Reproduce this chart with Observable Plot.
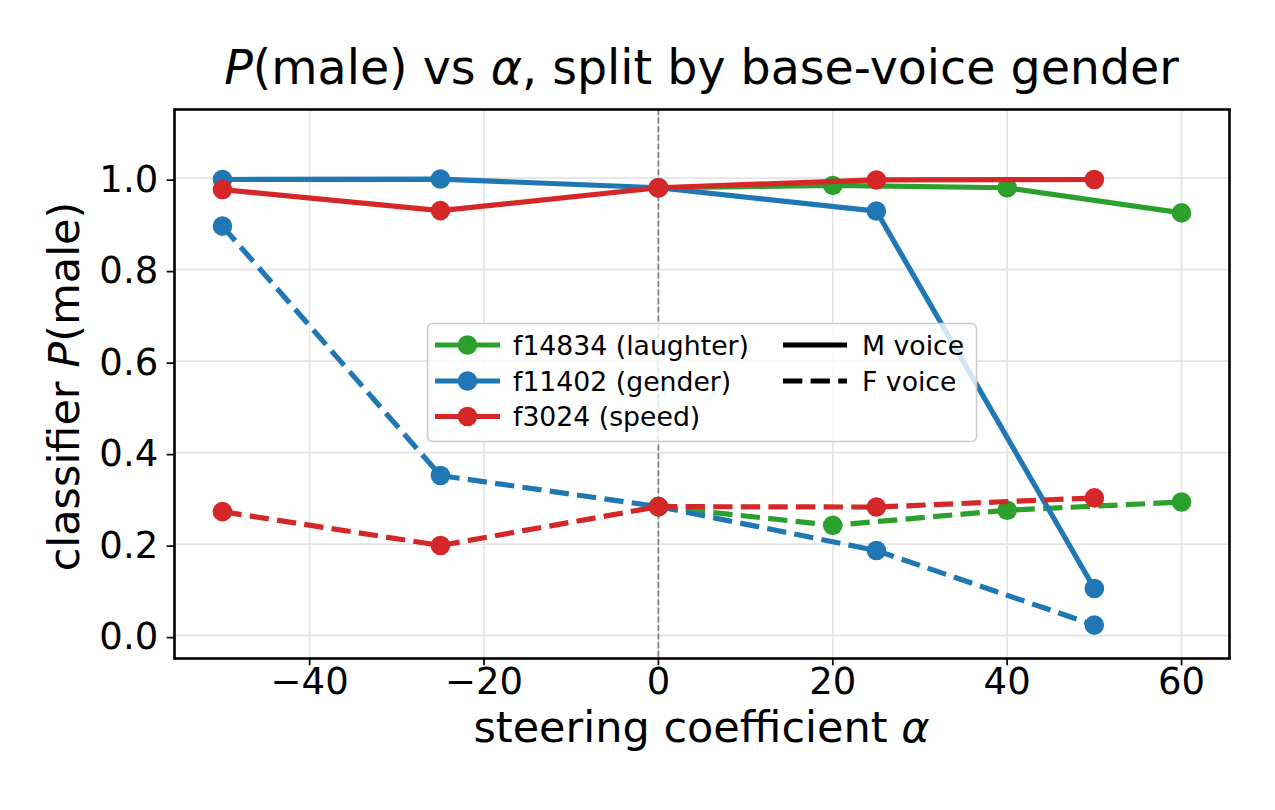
<!DOCTYPE html>
<html>
<head>
<meta charset="utf-8">
<script src="https://cdn.jsdelivr.net/npm/d3@7"></script>
<script src="https://cdn.jsdelivr.net/npm/@observablehq/plot@0.6"></script>
<style>
  body { margin: 0; background: #fff; font-family: "DejaVu Sans", sans-serif; }
  #wrap { width: 1275px; height: 810px; position: relative; overflow: hidden; }
  #title { position: relative; height: 100px; }
  #title div {
    position: absolute; left: 174px; width: 1055px; top: 44px;
    text-align: center; font-size: 47.5px; line-height: 1; color: #000; white-space: nowrap;
  }
  #chart svg { display: block; }
</style>
</head>
<body>
<div id="wrap">
  <div id="title"><div><i>P</i>(male) vs <i>α</i>, split by base-voice gender</div></div>
  <div id="chart"></div>
</div>
<script>
// Steering coefficients (α) used per feature
const alphasLaughter = [0, 20, 40, 60];
const alphasGender = [-50, -25, 0, 25, 50];
const alphasSpeed = [-50, -25, 0, 25, 50];

// Classifier P(male) for male (M) and female (F) base voices
const laughterM = [0.979, 0.984, 0.979, 0.924];
const laughterF = [0.282, 0.241, 0.274, 0.292];
const genderM = [0.997, 0.998, 0.979, 0.928, 0.103];
const genderF = [0.895, 0.350, 0.282, 0.186, 0.023];
const speedM = [0.975, 0.929, 0.979, 0.996, 0.997];
const speedF = [0.271, 0.197, 0.282, 0.281, 0.301];

const features = ["f14834 (laughter)", "f11402 (gender)", "f3024 (speed)"];
const featureColors = ["#2ca02c", "#1f77b4", "#d62728"];
const voices = ["M voice", "F voice"];

const xTicks = [-40, -20, 0, 20, 40, 60];
const yTicks = [0, 0.2, 0.4, 0.6, 0.8, 1.0];

// One entry per drawn series, in drawing order
const series = [
  {feature: features[0], color: featureColors[0], voice: voices[0], alphas: alphasLaughter, values: laughterM},
  {feature: features[0], color: featureColors[0], voice: voices[1], alphas: alphasLaughter, values: laughterF},
  {feature: features[1], color: featureColors[1], voice: voices[0], alphas: alphasGender, values: genderM},
  {feature: features[1], color: featureColors[1], voice: voices[1], alphas: alphasGender, values: genderF},
  {feature: features[2], color: featureColors[2], voice: voices[0], alphas: alphasSpeed, values: speedM},
  {feature: features[2], color: featureColors[2], voice: voices[1], alphas: alphasSpeed, values: speedF}
];

const DASH = "19.3,8.3";
const LW = 5.2;
const R = 9.8;

const seriesMarks = series.flatMap(s => {
  const rows = s.alphas.map((a, i) => ({alpha: a, p: s.values[i]}));
  return [
    Plot.line(rows, {
      x: "alpha", y: "p", stroke: s.color, strokeWidth: LW,
      strokeDasharray: s.voice === "F voice" ? DASH : null,
      strokeLinejoin: "round", strokeLinecap: "butt"
    }),
    Plot.dot(rows, {x: "alpha", y: "p", r: R, fill: s.color, stroke: "none"})
  ];
});

const fmtX = d => (d < 0 ? "\u2212" + Math.abs(d) : String(d));
const fmtY = d => d.toFixed(1);

const W = 1275, H = 710;
const mTop = 9, mLeft = 174, mRight = 46, mBottom = 152;

const chart = Plot.plot({
  width: W,
  height: H,
  marginTop: mTop,
  marginLeft: mLeft,
  marginRight: mRight,
  marginBottom: mBottom,
  style: {fontFamily: "DejaVu Sans", fontSize: "37px", color: "#000", background: "#fff", overflow: "visible"},
  x: {domain: [-55.5, 65.5]},
  y: {domain: [-0.05, 1.15]},
  marks: [
    Plot.gridX(xTicks, {stroke: "#e4e4e4", strokeOpacity: 1, strokeWidth: 1.6}),
    Plot.gridY(yTicks, {stroke: "#e4e4e4", strokeOpacity: 1, strokeWidth: 1.6}),
    Plot.ruleX([0], {stroke: "#808080", strokeWidth: 1.7, strokeDasharray: "6,2.6"}),
    ...seriesMarks,
    Plot.frame({stroke: "#000", strokeWidth: 2.6}),
    Plot.axisX(xTicks, {tickSize: 7.3, tickPadding: 2, fontSize: 37, strokeWidth: 1.7, tickFormat: fmtX, label: null}),
    Plot.axisY(yTicks, {tickSize: 7.3, tickPadding: 9, fontSize: 37, strokeWidth: 1.7, tickFormat: fmtY, label: null, dy: 2})
  ]
});

document.getElementById("chart").appendChild(chart);

const svg = d3.select(chart);
const xs = chart.scale("x");
const ys = chart.scale("y");
const frameCx = (xs.range[0] + xs.range[1]) / 2;
const frameCy = (ys.range[0] + ys.range[1]) / 2;

// Axis titles with italic math symbols
const xl = svg.append("text")
  .attr("x", frameCx).attr("y", ys.range[0] + 84)
  .attr("text-anchor", "middle")
  .attr("font-family", "DejaVu Sans").attr("font-size", 43).attr("fill", "#000");
xl.append("tspan").text("steering coefficient ");
xl.append("tspan").attr("font-style", "italic").text("α");

const yl = svg.append("text")
  .attr("transform", `translate(79,${frameCy + 3}) rotate(-90)`)
  .attr("text-anchor", "middle")
  .attr("font-family", "DejaVu Sans").attr("font-size", 43).attr("fill", "#000");
yl.append("tspan").text("classifier ");
yl.append("tspan").attr("font-style", "italic").text("P");
yl.append("tspan").text("(male)");

// Legend: feature colours (line + marker) and voice line styles
const lg = svg.append("g")
  .attr("font-family", "DejaVu Sans").attr("font-size", 26.7)
  .attr("text-anchor", "start");
const box = {x: 427.5, y: 223.5, w: 549, h: 118};
lg.append("rect")
  .attr("x", box.x).attr("y", box.y).attr("width", box.w).attr("height", box.h)
  .attr("rx", 5).attr("ry", 5)
  .attr("fill", "#fff").attr("fill-opacity", 0.8)
  .attr("stroke", "#cccccc").attr("stroke-width", 1.6);

const rowY = [245, 281, 316.5];
features.forEach((f, i) => {
  const y = rowY[i];
  lg.append("line").attr("x1", 435).attr("x2", 500).attr("y1", y).attr("y2", y)
    .attr("stroke", featureColors[i]).attr("stroke-width", LW);
  lg.append("circle").attr("cx", 467.5).attr("cy", y).attr("r", R).attr("fill", featureColors[i]);
  lg.append("text").attr("x", 513).attr("y", y).attr("dy", "0.36em")
    .attr("text-anchor", "start").attr("fill", "#000").text(f);
});
voices.forEach((v, i) => {
  const y = rowY[i];
  lg.append("line").attr("x1", 783).attr("x2", 847).attr("y1", y).attr("y2", y)
    .attr("stroke", "#000").attr("stroke-width", LW)
    .attr("stroke-dasharray", v === "F voice" ? DASH : null);
  lg.append("text").attr("x", 862).attr("y", y).attr("dy", "0.36em")
    .attr("text-anchor", "start").attr("fill", "#000").text(v);
});
</script>
</body>
</html>
